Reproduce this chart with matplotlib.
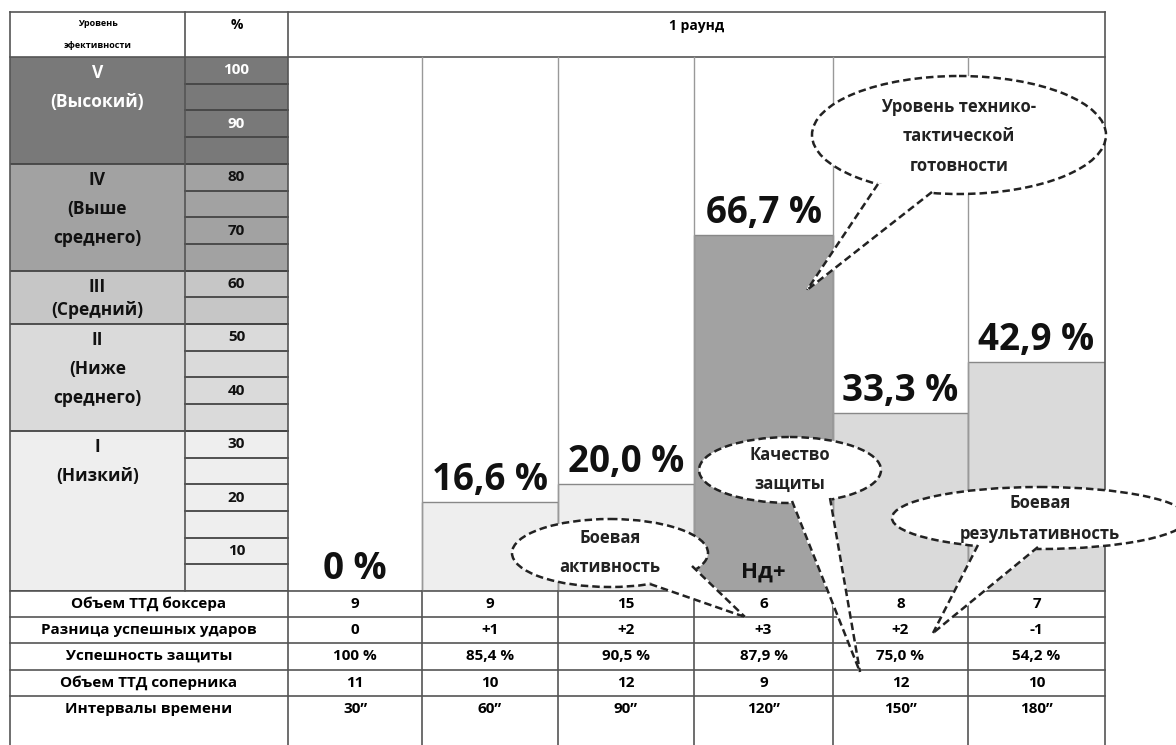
import matplotlib
matplotlib.use('Agg')
import matplotlib.pyplot as plt
from matplotlib.patches import Ellipse, Polygon

plt.rcParams['font.family'] = ['Open Sans', 'DejaVu Sans']
plt.rcParams['font.weight'] = 'bold'

# ---- data ----
intervals = ['30\u201d', '60\u201d', '90\u201d', '120\u201d', '150\u201d', '180\u201d']
ttg = [0, 16.6, 20.0, 66.7, 33.3, 42.9]
ttg_labels = ['0 %', '16,6 %', '20,0 %', '66,7 %', '33,3 %', '42,9 %']
boxer_volume = [9, 9, 15, 6, 8, 7]
hit_diff = ['0', '+1', '+2', '+3', '+2', '-1']
defense = ['100 %', '85,4 %', '90,5 %', '87,9 %', '75,0 %', '54,2 %']
opp_volume = [11, 10, 12, 9, 12, 10]
row_names = ['Объем ТТД боксера', 'Разница успешных ударов', 'Успешность защиты',
             'Объем ТТД соперника', 'Интервалы времени']

level_names = [['V', '(Высокий)'], ['IV', '(Выше', 'среднего)'], ['III', '(Средний)'],
               ['II', '(Ниже', 'среднего)'], ['I', '(Низкий)']]
level_lo = [80, 60, 50, 30, 0]
level_hi = [100, 80, 60, 50, 30]
level_colors = ['#797979', '#a2a2a2', '#c6c6c6', '#dadada', '#eeeeee']
pct_ticks = [100, 90, 80, 70, 60, 50, 40, 30, 20, 10]

# ---- layout (pixels) ----
W, H = 1176, 745
X0, X_LV, X_PC, X1 = 10, 185, 288, 1105
col_edges = [288, 422, 558, 694, 833, 968, 1105]
Y_TOP, Y_HEAD, Y_BASE, Y_END = 12, 57, 591, 745
row_lines = [591, 617, 643, 670, 696]
line_c = '#555555'
px_per_pct = (Y_BASE - Y_HEAD) / 100

fig = plt.figure(figsize=(W / 100, H / 100), dpi=100)

# bar / level area, y in percent
ax = fig.add_axes([X0 / W, 1 - Y_BASE / H, (X1 - X0) / W, (Y_BASE - Y_HEAD) / H])
ax.set_xlim(X0, X1)
ax.set_ylim(0, 100)
ax.axis('off')

def level_of(v):
    for i in range(len(level_lo)):
        if level_lo[i] <= v <= level_hi[i]:
            return i
    return len(level_lo) - 1

# level column + % column fills
for i in range(len(level_names)):
    ax.bar((X0 + X_PC) / 2, level_hi[i] - level_lo[i], bottom=level_lo[i],
           width=X_PC - X0, color=level_colors[i], lw=0)
    ax.plot([X0, X_PC], [level_lo[i], level_lo[i]], color='#444444', lw=1.3)
    tc = 'white' if i == 0 else '#111111'
    cell_px = (level_hi[i] - level_lo[i]) * px_per_pct
    step = min(29, cell_px - 30)
    for k, s in enumerate(level_names[i]):
        ax.annotate(s, xy=((X0 + X_LV) / 2, level_hi[i]), xytext=(0, -16 - step * k),
                    textcoords='offset pixels', ha='center', va='center',
                    fontsize=12.5, color=tc)

for v in range(5, 100, 5):
    ax.plot([X_LV, X_PC], [v, v], color='#444444', lw=1.3)
for v in pct_ticks:
    tc = 'white' if v > 80 else '#111111'
    ax.text((X_LV + X_PC) / 2, v - 2.5, str(v), ha='center', va='center',
            fontsize=11, color=tc)

# bars
centers = [(col_edges[i] + col_edges[i + 1]) / 2 for i in range(6)]
widths = [col_edges[i + 1] - col_edges[i] for i in range(6)]
bar_colors = [level_colors[level_of(v)] for v in ttg]
ax.bar(centers, ttg, width=widths, color=bar_colors, edgecolor='#888888', lw=1)
for c, v, s in zip(centers, ttg, ttg_labels):
    ax.annotate(s, xy=(c, v), xytext=(0, 12), textcoords='offset pixels',
                ha='center', va='baseline', fontsize=26.5, color='#111111')
ax.annotate('Нд+', xy=(centers[3], 0), xytext=(0, 19), textcoords='offset pixels',
            ha='center', va='center', fontsize=16, color='#111111')

# ---- grid and table in pixel coordinates ----
ax0 = fig.add_axes([0, 0, 1, 1])
ax0.set_xlim(0, W)
ax0.set_ylim(H, 0)
ax0.axis('off')

for y in [Y_TOP, Y_HEAD] + row_lines:
    ax0.plot([X0, X1], [y, y], color=line_c, lw=1.2)
for x in [X0, X_PC, X1]:
    ax0.plot([x, x], [Y_TOP, Y_END], color=line_c, lw=1.2)
ax0.plot([X_LV, X_LV], [Y_TOP, Y_BASE], color=line_c, lw=1.2)
for x in col_edges[1:-1]:
    ax0.plot([x, x], [Y_HEAD, Y_BASE], color='#999999', lw=1)
    ax0.plot([x, x], [Y_BASE, Y_END], color=line_c, lw=1.2)

ax0.text((X0 + X_LV) / 2, 23, 'Уровень', ha='center', va='center', fontsize=6.5)
ax0.text((X0 + X_LV) / 2, 46, 'эфективности', ha='center', va='center', fontsize=6.5)
ax0.text((X_LV + X_PC) / 2, 25, '%', ha='center', va='center', fontsize=10)
ax0.text((X_PC + X1) / 2, 26, '1 раунд', ha='center', va='center', fontsize=10)

table_rows = [boxer_volume, hit_diff, defense, opp_volume, intervals]
row_y = [604, 630, 656, 683, 709]
for y, name, vals in zip(row_y, row_names, table_rows):
    ax0.text((X0 + X_PC) / 2, y, name, ha='center', va='center', fontsize=11)
    for c, v in zip(centers, vals):
        ax0.text(c, y, str(v), ha='center', va='center', fontsize=11)

# ---- speech-bubble callouts ----
dash = (0, (3, 1.6))

def callout(cx, cy, w, h, b1, b2, tip, lines, ys, fs=12):
    ax0.add_patch(Ellipse((cx, cy), w, h, facecolor='white', edgecolor='#222222',
                          lw=1.8, linestyle=dash, zorder=20))
    ax0.add_patch(Polygon([b1, tip, b2], closed=True, facecolor='white',
                          edgecolor='white', lw=1.5, zorder=21))
    for b in (b1, b2):
        ax0.plot([b[0], tip[0]], [b[1], tip[1]], color='#222222', lw=1.8,
                 linestyle=dash, zorder=22)
    for s, y in zip(lines, ys):
        ax0.text(cx, y, s, ha='center', va='center', fontsize=fs,
                 color='#222222', zorder=23)

callout(959, 135, 294, 118, (878, 184), (932, 192), (807, 290),
        ['Уровень технико-', 'тактической', 'готовности'], [107, 136, 166])
callout(790, 470, 182, 66, (792, 501), (830, 498), (860, 672),
        ['Качество', 'защиты'], [455, 484])
callout(610, 553, 196, 68, (650, 584), (692, 566), (745, 617),
        ['Боевая', 'активность'], [538, 567])
callout(1040, 518, 296, 62, (978, 545), (1038, 547), (933, 633),
        ['Боевая', 'результативность'], [503, 534])

fig.savefig('out.png', dpi=100)
